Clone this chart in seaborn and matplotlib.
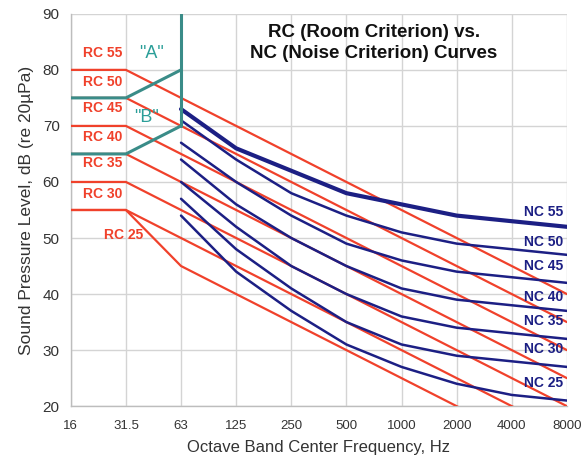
import numpy as np
import pandas as pd
import matplotlib
matplotlib.use("Agg")
import matplotlib.pyplot as plt
import seaborn as sns

# ---------------- data ----------------
freq_labels = ["16", "31.5", "63", "125", "250", "500", "1000", "2000", "4000", "8000"]

rc_names = ["RC 55", "RC 50", "RC 45", "RC 40", "RC 35", "RC 30", "RC 25"]
rc55 = [80, 80, 75, 70, 65, 60, 55, 50, 45, 40]
rc50 = [75, 75, 70, 65, 60, 55, 50, 45, 40, 35]
rc45 = [70, 70, 65, 60, 55, 50, 45, 40, 35, 30]
rc40 = [65, 65, 60, 55, 50, 45, 40, 35, 30, 25]
rc35 = [60, 60, 55, 50, 45, 40, 35, 30, 25, 20]
rc30 = [55, 55, 50, 45, 40, 35, 30, 25, 20, 15]
rc25 = [55, 55, 45, 40, 35, 30, 25, 20, 15, 10]
rc_values = [rc55, rc50, rc45, rc40, rc35, rc30, rc25]

nc_freq_labels = ["63", "125", "250", "500", "1000", "2000", "4000", "8000"]
nc_names = ["NC 55", "NC 50", "NC 45", "NC 40", "NC 35", "NC 30", "NC 25"]
nc55 = [73, 66, 62, 58, 56, 54, 53, 52]
nc50 = [71, 64, 58, 54, 51, 49, 48, 47]
nc45 = [67, 60, 54, 49, 46, 44, 43, 42]
nc40 = [64, 56, 50, 45, 41, 39, 38, 37]
nc35 = [60, 52, 45, 40, 36, 34, 33, 32]
nc30 = [57, 48, 41, 35, 31, 29, 28, 27]
nc25 = [54, 44, 37, 31, 27, 24, 22, 21]
nc_values = [nc55, nc50, nc45, nc40, nc35, nc30, nc25]

zone_freq_labels = ["16", "31.5", "63"]
zone_a = [75, 75, 80]
zone_b = [65, 65, 70]
zone_vert_freq = ["63", "63"]
zone_vert = [70, 90]

# ---------------- style ----------------
sns.set_theme(style="whitegrid")
plt.rcParams["font.family"] = ["Liberation Sans", "DejaVu Sans"]

RED = "#f0412b"
NAVY = "#1c1f84"
TEAL_LINE = "#3a8c88"
TEAL_TEXT = "#2a9e98"
GRID = "#d4d4d4"

pos = {f: i for i, f in enumerate(freq_labels)}

fig, ax = plt.subplots(figsize=(5.85, 4.61), dpi=100)
fig.subplots_adjust(left=0.121, right=0.969, top=0.970, bottom=0.119)

# RC curves
for name, vals in zip(rc_names, rc_values):
    df = pd.DataFrame({"x": [pos[f] for f in freq_labels], "y": vals})
    sns.lineplot(data=df, x="x", y="y", ax=ax, color=RED, lw=1.6, sort=False, zorder=3)

# NC curves
for name, vals in zip(nc_names, nc_values):
    df = pd.DataFrame({"x": [pos[f] for f in nc_freq_labels], "y": vals})
    lw = 3.0 if name == "NC 55" else 1.8
    sns.lineplot(data=df, x="x", y="y", ax=ax, color=NAVY, lw=lw, sort=False, zorder=4)

# zone lines
for vals in (zone_a, zone_b):
    df = pd.DataFrame({"x": [pos[f] for f in zone_freq_labels], "y": vals})
    sns.lineplot(data=df, x="x", y="y", ax=ax, color=TEAL_LINE, lw=2.2, sort=False, zorder=5)
df = pd.DataFrame({"x": [pos[f] for f in zone_vert_freq], "y": zone_vert})
sns.lineplot(data=df, x="x", y="y", ax=ax, color=TEAL_LINE, lw=2.2, sort=False, zorder=5,
             estimator=None)

ax.set_xlim(0, len(freq_labels) - 1)
ax.set_ylim(20, 90)
ax.set_xticks(range(len(freq_labels)))
ax.set_xticklabels(freq_labels)
ax.set_yticks(range(20, 91, 10))
ax.grid(True, color=GRID, lw=1.0)
for s in ["top", "right"]:
    ax.spines[s].set_visible(False)
for s in ["left", "bottom"]:
    ax.spines[s].set_color("#bdbdbd")
    ax.spines[s].set_linewidth(1.0)
ax.tick_params(axis="x", labelsize=9.5, colors="#333333", length=4, color=GRID, pad=6)
ax.tick_params(axis="y", labelsize=11, colors="#333333", length=4, color=GRID, pad=4)

ax.set_xlabel("Octave Band Center Frequency, Hz", fontsize=12, color="#333333", labelpad=6)
ax.set_ylabel("Sound Pressure Level, dB (re 20\u00b5Pa)", fontsize=12.5, color="#333333", labelpad=6)

# RC labels
rc_label_y = [83.0, 77.8, 73.2, 68.0, 63.4, 57.8]
for name, y in zip(rc_names[:-1], rc_label_y):
    ax.text(0.93, y, name, color=RED, fontsize=10, fontweight="bold", ha="right", va="center", zorder=6)
ax.text(0.95, 50.5, rc_names[-1], color=RED, fontsize=10, fontweight="bold", ha="center", va="center", zorder=6)

# NC labels
nc_label_y = [54.6, 49.3, 45.0, 39.5, 35.2, 30.2, 24.1]
for name, y in zip(nc_names, nc_label_y):
    ax.text(8.93, y, name, color=NAVY, fontsize=10, fontweight="bold", ha="right", va="center", zorder=6)

# zone labels
ax.text(1.47, 83.0, '"A"', color=TEAL_TEXT, fontsize=13, ha="center", va="center", zorder=6)
ax.text(1.38, 71.5, '"B"', color=TEAL_TEXT, fontsize=13, ha="center", va="center", zorder=6)

# title
ax.text(5.5, 84.8, "RC (Room Criterion) vs.\nNC (Noise Criterion) Curves", fontsize=13.5,
        fontweight="bold", color="#111111", ha="center", va="center", linespacing=1.25, zorder=6)

fig.savefig("out.png", dpi=100)
